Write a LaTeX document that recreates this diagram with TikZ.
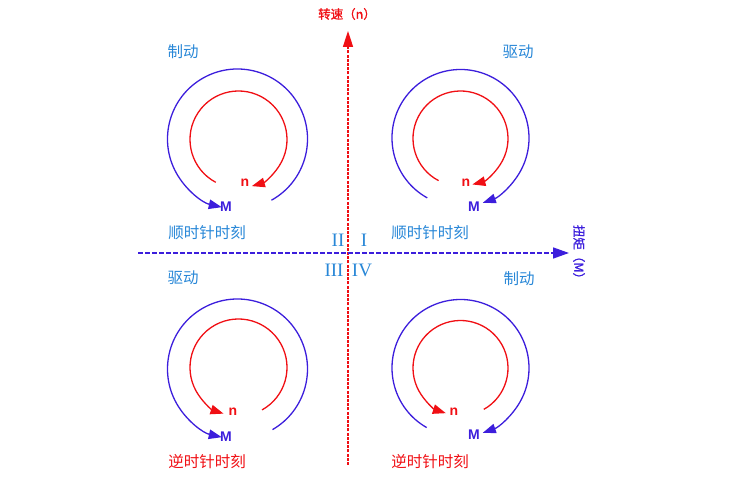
\documentclass[tikz,border=0pt]{standalone}
\usepackage{fontspec}
\setmainfont{Liberation Sans}
\newfontfamily\cjk{Noto Sans CJK SC}
\newfontfamily\cjkb[FakeBold=1.2]{Noto Sans CJK SC}
\newfontfamily\serifnum{Liberation Serif}
\usetikzlibrary{arrows.meta}
\definecolor{lblblue}{RGB}{40,135,215}
\definecolor{mblue}{RGB}{60,30,220}
\definecolor{nred}{RGB}{240,15,20}
\tikzset{
  cnlabel/.style={font=\cjk\fontsize{15.5}{15.5}\selectfont, inner sep=0pt},
  bluelabel/.style={cnlabel, text=lblblue},
  redlabel/.style={cnlabel, text=nred},
  axislabel/.style={font=\cjkb\fontsize{12.5}{12.5}\selectfont, inner sep=0pt},
  quad/.style={font=\serifnum\fontsize{19}{19}\selectfont, text=lblblue, inner sep=0pt},
  mlabel/.style={font=\bfseries\fontsize{14}{14}\selectfont, text=mblue, inner sep=0pt},
  nlabel/.style={font=\bfseries\fontsize{14}{14}\selectfont, text=nred, inner sep=0pt},
  marc/.style={draw=mblue, line width=1.3pt, -{Triangle[length=13pt,width=9.5pt]}},
  narc/.style={draw=nred, line width=1.3pt, -{Triangle[length=13pt,width=9.5pt]}},
}
\begin{document}
\begin{tikzpicture}[x=1pt,y=1pt]
\useasboundingbox (0,0) rectangle (750,479);
% axes
\coordinate (vbot) at (348,14);
\coordinate (vtop) at (348,448);
\coordinate (hleft) at (138,226);
\coordinate (hright) at (569,226);
\draw[nred, line width=1.6pt, dash pattern=on 3pt off 1.2pt, -{Triangle[length=16pt,width=10pt]}] (vbot) -- (vtop);
\draw[mblue, line width=1.6pt, dash pattern=on 5pt off 2pt, -{Triangle[length=16pt,width=11pt]}] (hleft) -- (hright);
\node[axislabel, text=nred] (nlab) at (347,465) {转速（n）};
\node[axislabel, text=mblue, rotate=-90] (mlab) at (579,224) {扭矩（M）};
% quadrant numerals
\node[quad] (q2) at (338,239) {II};
\node[quad] (q1) at (364,239) {I};
\node[quad] (q3) at (334,209) {III};
\node[quad] (q4) at (362,209) {IV};
% labels
\node[bluelabel] (tl1) at (183,427) {制动};
\node[bluelabel] (tr1) at (518,427) {驱动};
\node[bluelabel] (tl2) at (207,246) {顺时针时刻};
\node[bluelabel] (tr2) at (430,246) {顺时针时刻};
\node[bluelabel] (bl1) at (183,201) {驱动};
\node[bluelabel] (br1) at (519,200) {制动};
\node[redlabel] (bl2) at (207,17) {逆时针时刻};
\node[redlabel] (br2) at (430,17) {逆时针时刻};
% n and M labels
\node[nlabel] (ntl) at (245,296) {n};
\node[nlabel] (ntr) at (466,296) {n};
\node[nlabel] (nbl) at (233,67) {n};
\node[nlabel] (nbr) at (454,67) {n};
\node[mlabel] (mtl) at (226,272) {M};
\node[mlabel] (mtr) at (474,272) {M};
\node[mlabel] (mbl) at (226,42) {M};
\node[mlabel] (mbr) at (474,44) {M};
% top-left
\draw[marc] (237.5,340) ++(-61:70) arc[start angle=-61, end angle=257, radius=70];
\draw[narc] (238.5,339.5) ++(242:48.5) arc[start angle=242, end angle=-74, radius=48.5];
% top-right
\draw[marc] (460.5,341) ++(241:68.5) arc[start angle=241, end angle=-71, radius=68.5];
\draw[narc] (460.5,340.5) ++(242.6:47.5) arc[start angle=242.6, end angle=-75.5, radius=47.5];
% bottom-left
\draw[marc] (237.5,110) ++(-60:70) arc[start angle=-60, end angle=257, radius=70];
\draw[narc] (238.5,111.5) ++(-61:48.5) arc[start angle=-61, end angle=252, radius=48.5];
% bottom-right
\draw[marc] (460.5,111) ++(240.4:68.5) arc[start angle=240.4, end angle=-71, radius=68.5];
\draw[narc] (460.5,111) ++(-60.6:47.5) arc[start angle=-60.6, end angle=252, radius=47.5];
\end{tikzpicture}
\end{document}
